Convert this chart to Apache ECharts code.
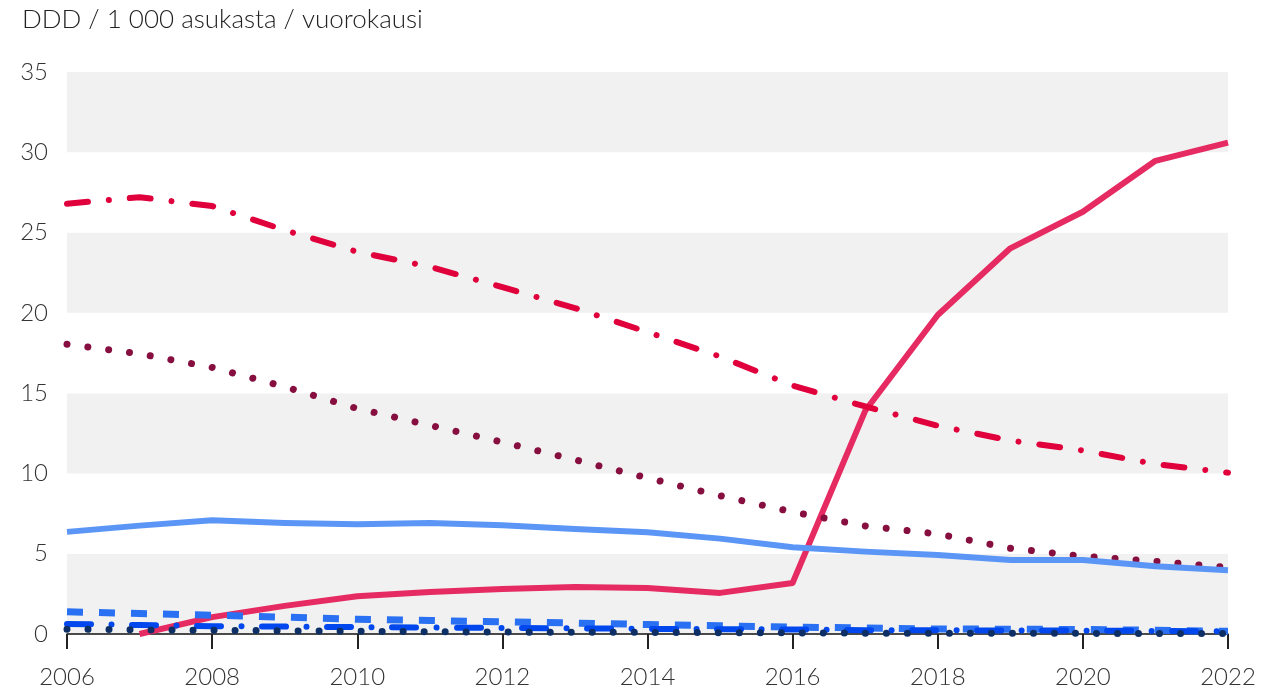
<!DOCTYPE html>
<html>
<head>
<meta charset="utf-8">
<script src="https://cdn.jsdelivr.net/npm/echarts@6/dist/echarts.min.js"></script>
<style>
html,body{margin:0;padding:0;background:#fff;}
#chart{width:1264px;height:693px;}
</style>
</head>
<body>
<div id="chart"></div>
<script>
const title = 'DDD / 1 000 asukasta / vuorokausi';
const years = [2006,2007,2008,2009,2010,2011,2012,2013,2014,2015,2016,2017,2018,2019,2020,2021,2022];
const pinkSolid   = [null,0,1.05,1.75,2.35,2.62,2.8,2.93,2.87,2.56,3.18,13.9,19.87,24.02,26.3,29.47,30.6];
const redDashDot  = [26.8,27.2,26.65,25.15,23.8,22.87,21.6,20.3,18.8,17.28,15.47,14.17,12.97,12.05,11.43,10.58,10.05];
const maroonDots  = [18.05,17.45,16.6,15.4,14.04,13.0,11.95,10.85,9.72,8.61,7.6,6.73,6.23,5.34,4.84,4.53,4.15];
const blueSolid   = [6.36,6.75,7.08,6.92,6.83,6.92,6.77,6.54,6.33,5.94,5.4,5.13,4.92,4.61,4.61,4.22,3.97];
const blueDashed  = [1.38,1.28,1.17,1.05,0.92,0.84,0.76,0.68,0.59,0.51,0.43,0.38,0.31,0.3,0.28,0.23,0.17];
const blueDashDot = [0.63,0.56,0.49,0.46,0.43,0.4,0.38,0.35,0.32,0.3,0.28,0.24,0.23,0.22,0.21,0.19,0.17];
const navyDots    = [0.3,0.26,0.23,0.2,0.17,0.14,0.12,0.11,0.1,0.08,0.07,0.05,0.05,0.04,0.04,0.03,0.03];
const yTicks = [0,5,10,15,20,25,30,35];
const xTicks = [2006,2008,2010,2012,2014,2016,2018,2020,2022];

function pairs(arr){ return years.map((y,i)=> arr[i]==null ? null : [y, arr[i]]).filter(p=>p); }
function line(name, arr, color, width, dash, cap){
  return {
    name, type:'line', data:pairs(arr), symbol:'none', smooth:false, silent:true,
    lineStyle:{color, width, type: dash || 'solid', cap: cap || 'butt', join:'round'}
  };
}
const FONT = 'Lato';
const chart = echarts.init(document.getElementById('chart'), null, {renderer:'canvas'});
chart.setOption({
  animation:false,
  backgroundColor:'#fff',
  title:{text:title, left:17, top:2, textStyle:{fontFamily:FONT, fontWeight:300, fontSize:26, color:'#222'}},
  grid:{left:67, right:36, top:72, bottom:59, containLabel:false},
  xAxis:{
    type:'value', position:'bottom', min:xTicks[0], max:xTicks[xTicks.length-1], interval:2,
    axisLine:{show:true, onZero:false, lineStyle:{color:'#111', width:1.5}},
    axisTick:{show:true, inside:false, length:15, lineStyle:{color:'#222', width:2}},
    splitLine:{show:false},
    axisLabel:{fontFamily:FONT, fontWeight:300, fontSize:24, color:'#333', margin:31,
      formatter:v=> String(v)}
  },
  yAxis:{
    type:'value', min:yTicks[0], max:yTicks[yTicks.length-1], interval:5,
    axisLine:{show:false}, axisTick:{show:false}, splitLine:{show:false},
    splitArea:{show:true, areaStyle:{color:['#f0f1f0','#ffffff']}},
    axisLabel:{fontFamily:FONT, fontWeight:300, fontSize:24, color:'#333', margin:19,
      formatter:v=> String(v)}
  },
  series:[
    line('pink', pinkSolid, '#e62a62', 6, 'solid', 'butt'),
    line('red', redDashDot, '#e0003c', 6, [21,21,0.01,21], 'round'),
    line('maroon', maroonDots, '#860f40', 7, [0.01,21], 'round'),
    line('lightblue', blueSolid, '#5b96f7', 6, 'solid', 'butt'),
    line('bluedash', blueDashed, '#2a70f2', 7, [16,16], 'butt'),
    line('bluedashdot', blueDashDot, '#0048ee', 6, [24,20.5,0.01,20.5], 'round'),
    line('navy', navyDots, '#0d2f66', 7, [0.01,21], 'round')
  ]
});
</script>
</body>
</html>
